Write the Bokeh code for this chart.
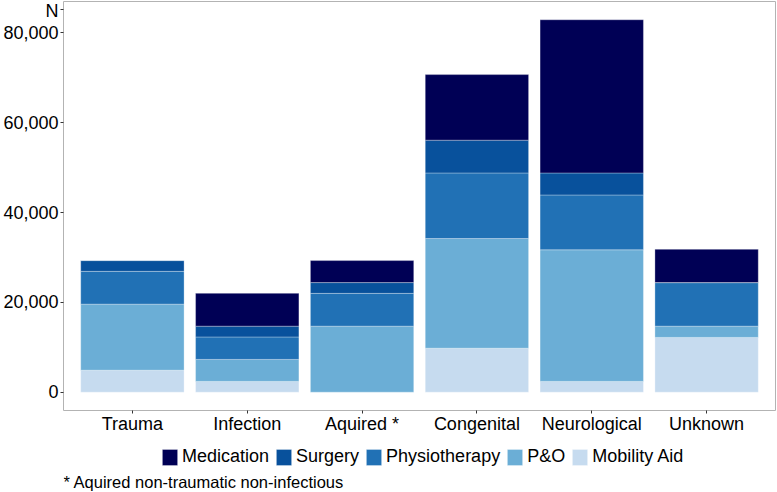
from bokeh.plotting import figure
from bokeh.layouts import column
from bokeh.models import (FactorRange, Range1d, FixedTicker, NumeralTickFormatter,
                          Legend, LegendItem, Label, ColumnDataSource)
from bokeh.embed import file_html
from bokeh.resources import INLINE

categories = ["Trauma", "Infection", "Aquired *", "Congenital", "Neurological", "Unknown"]
mobility_aid = [4900, 2400, 0, 9800, 2400, 12200]
p_and_o = [14700, 4900, 14700, 24400, 29300, 2500]
physiotherapy = [7300, 5000, 7300, 14600, 12200, 9700]
surgery = [2400, 2400, 2400, 7300, 4900, 0]
medication = [0, 7300, 4900, 14600, 34100, 7400]
y_ticks = [0, 20000, 40000, 60000, 80000]
y_title = "N"
footnote = "* Aquired non-traumatic non-infectious"

series = ["Mobility Aid", "P&O", "Physiotherapy", "Surgery", "Medication"]
colors = ["#c6dbef", "#6baed6", "#2171b5", "#08519c", "#000055"]

FONT = "Liberation Sans"
Y_START, Y_END = -4073, 86967
N_TICK = 85150
W = 777
H_MAIN, H_KEY = 438, 54
BL, BR = 61, 2

source = ColumnDataSource(dict(cat=categories, **{
    "Mobility Aid": mobility_aid, "P&O": p_and_o, "Physiotherapy": physiotherapy,
    "Surgery": surgery, "Medication": medication}))

p = figure(width=W, height=H_MAIN, output_backend="svg", toolbar_location=None,
           x_range=FactorRange(factors=categories, range_padding=0.1,
                               range_padding_units="absolute"),
           y_range=Range1d(Y_START, Y_END),
           min_border_left=BL, min_border_right=BR, min_border_top=1,
           min_border_bottom=H_MAIN - 410)

p.vbar_stack(series, x="cat", width=0.9, source=source, color=colors,
             line_color="white", line_width=0.5, line_alpha=0.6)

p.xgrid.visible = False
p.ygrid.visible = False
p.outline_line_color = "#b3b3b3"
p.outline_line_width = 1
p.background_fill_color = "white"
p.border_fill_color = "white"

for ax in (p.xaxis[0], p.yaxis[0]):
    ax.axis_line_color = None
    ax.major_tick_line_color = "#333333"
    ax.major_tick_out = 3
    ax.major_tick_in = 0
    ax.minor_tick_line_color = None
    ax.major_label_text_font = FONT
    ax.major_label_text_font_size = "18px"
    ax.major_label_text_color = "black"
    ax.major_label_standoff = 2

p.yaxis.ticker = FixedTicker(ticks=y_ticks + [N_TICK])
p.yaxis.formatter = NumeralTickFormatter(format="0,0")
p.yaxis.major_label_overrides = {N_TICK: y_title}
p.xaxis.major_label_standoff = 0

# key + footnote strip: x in page pixels (frame aligned with main plot), y in pixels
k = figure(width=W, height=H_KEY, output_backend="svg", toolbar_location=None,
           x_range=Range1d(BL, W - BR), y_range=Range1d(0, H_KEY),
           x_axis_type=None, y_axis_type=None,
           min_border_left=BL, min_border_right=BR, min_border_top=0, min_border_bottom=0)
k.outline_line_color = None
k.background_fill_color = "white"
k.border_fill_color = "white"
k.grid.visible = False

# legend proxies: one zero-size bar each, placed outside the visible range
key_renderers = [k.vbar(x=[0], top=[0], bottom=[0], width=0, fill_color=c,
                        line_color="white", line_width=0.5, line_alpha=0.6)
                 for c in colors]
items = [LegendItem(label=s, renderers=[r]) for s, r in zip(series, key_renderers)][::-1]
legend = Legend(items=items, orientation="horizontal", location=(158 - BL, 25),
                glyph_width=19, glyph_height=20, label_height=20,
                label_standoff=3, spacing=5, padding=0, margin=0,
                border_line_color=None, background_fill_alpha=0,
                label_text_font=FONT, label_text_font_size="18px",
                label_text_color="black")
k.add_layout(legend, "center")

k.add_layout(Label(x=BL, y=11, text=footnote, text_font=FONT,
                   text_font_size="16.5px", text_color="black",
                   text_align="left", text_baseline="middle"))

open("out.html", "w").write(file_html(column(p, k), INLINE))
